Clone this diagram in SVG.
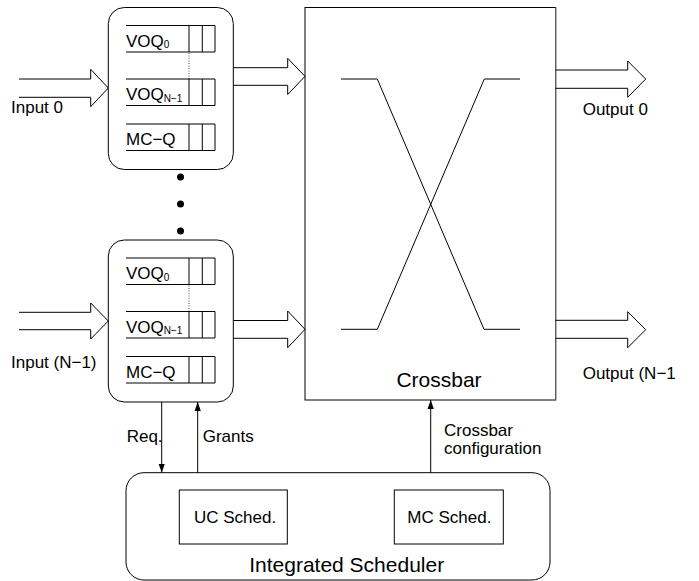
<svg xmlns="http://www.w3.org/2000/svg" width="699" height="581" viewBox="0 0 699 581">
<style>
  .ln{fill:none;stroke:#000;stroke-width:1}
  .box{fill:#fff;stroke:#000;stroke-width:1}
  .t{font-family:"Liberation Sans",Arial,sans-serif;font-size:17px;fill:#000}
  .tb{font-family:"Liberation Sans",Arial,sans-serif;font-size:21px;fill:#000}
  .sub{font-family:"Liberation Sans",Arial,sans-serif;font-size:10px;fill:#000}
  .dot{stroke:#555;stroke-width:1;stroke-dasharray:1 1.5;fill:none}
</style>
<defs>
  <marker id="ah" viewBox="0 0 10 10" refX="10" refY="5" markerWidth="9" markerHeight="9" markerUnits="userSpaceOnUse" orient="auto">
    <path d="M0 1.5 L10 5 L0 8.5 Z" fill="#000"/>
  </marker>
  <g id="queue">
    <path class="ln" d="M0 0 H89 V26.5 H0 M63 0 V26.5 M76.3 0 V26.5"/>
  </g>
</defs>
<rect width="699" height="581" fill="#fff"/>

<g id="inputbox0">
  <rect class="box" x="108.3" y="7.5" width="125" height="162" rx="16"/>
  <use href="#queue" x="126" y="25.5"/>
  <text class="t" x="126" y="46.5">VOQ<tspan class="sub" dy="1.5">0</tspan></text>
  <line class="dot" x1="189" y1="53" x2="189" y2="79"/>
  <use href="#queue" x="126" y="79"/>
  <text class="t" x="126" y="100">VOQ<tspan class="sub" dy="1.5">N−1</tspan></text>
  <use href="#queue" x="126" y="124"/>
  <text class="t" x="126" y="145">MC−Q</text>
</g>

<g id="inputbox1">
  <rect class="box" x="108.3" y="240" width="125" height="162" rx="16"/>
  <use href="#queue" x="126" y="258"/>
  <text class="t" x="126" y="279">VOQ<tspan class="sub" dy="1.5">0</tspan></text>
  <line class="dot" x1="189" y1="285.5" x2="189" y2="311.5"/>
  <use href="#queue" x="126" y="311.5"/>
  <text class="t" x="126" y="332.5">VOQ<tspan class="sub" dy="1.5">N−1</tspan></text>
  <use href="#queue" x="126" y="356.5"/>
  <text class="t" x="126" y="377.5">MC−Q</text>
</g>

<g id="ellipsis">
  <circle cx="180.5" cy="177" r="3.5" fill="#000"/>
  <circle cx="180.5" cy="204" r="3.5" fill="#000"/>
  <circle cx="180.5" cy="231" r="3.5" fill="#000"/>
</g>

<g id="crossbar">
  <rect class="box" x="305" y="7.5" width="250.7" height="392.5"/>
  <line x1="555.7" y1="7.5" x2="555.7" y2="400" stroke="#666" stroke-width="1"/>
  <path class="ln" d="M341 79 H377.3 L484 329.3 H520 M520 79 H484.3 L377.3 329.3 H341"/>
  <text class="tb" x="439" y="387.3" text-anchor="middle">Crossbar</text>
</g>

<g id="scheduler">
  <rect class="box" x="126" y="472.7" width="424" height="107.3" rx="18"/>
  <g id="ucsched">
    <rect class="box" x="179.3" y="490" width="108" height="54"/>
    <text class="t" x="194" y="523.3">UC Sched.</text>
  </g>
  <g id="mcsched">
    <rect class="box" x="394.3" y="490" width="109" height="54"/>
    <text class="t" x="407.3" y="523.3">MC Sched.</text>
  </g>
  <text class="tb" x="346.7" y="571.7" text-anchor="middle">Integrated Scheduler</text>
</g>

<g id="connectors">
  <path class="ln" d="M19 79 H90.7 V69.3 L108.3 88 L90.7 106.7 V97.3 H19"/>
  <path class="ln" d="M19 312.3 H90.7 V303 L108.3 321 L90.7 339 V329.7 H19"/>
  <path class="ln" d="M233.3 67.7 H287.7 V58.3 L305 76.3 L287.7 94.5 V85.3 H233.3"/>
  <path class="ln" d="M233.3 320.5 H287.7 V311 L305 329.3 L287.7 347.7 V338.3 H233.3"/>
  <path class="ln" d="M555.7 70 H627.7 V61 L645.7 79 L627.7 97.3 V88.3 H555.7"/>
  <path class="ln" d="M555.7 320.3 H627.7 V311.7 L645.7 329.7 L627.7 347.7 V338.3 H555.7"/>
  <line class="ln" x1="161.7" y1="402" x2="161.7" y2="472.7" marker-end="url(#ah)"/>
  <line class="ln" x1="197.7" y1="472.7" x2="197.7" y2="402" marker-end="url(#ah)"/>
  <line class="ln" x1="430.7" y1="472.7" x2="430.7" y2="400" marker-end="url(#ah)"/>
</g>

<g id="labels">
  <text class="t" x="11" y="113">Input 0</text>
  <text class="t" x="11" y="367.7">Input (N−1)</text>
  <text class="t" x="582.7" y="115">Output 0</text>
  <text class="t" x="582.7" y="379.3">Output (N−1</text>
  <text class="t" x="126.7" y="441.7">Req.</text>
  <text class="t" x="202.7" y="441.7">Grants</text>
  <text class="t" x="444" y="436">Crossbar</text>
  <text class="t" x="444" y="454.3">configuration</text>
</g>
</svg>
